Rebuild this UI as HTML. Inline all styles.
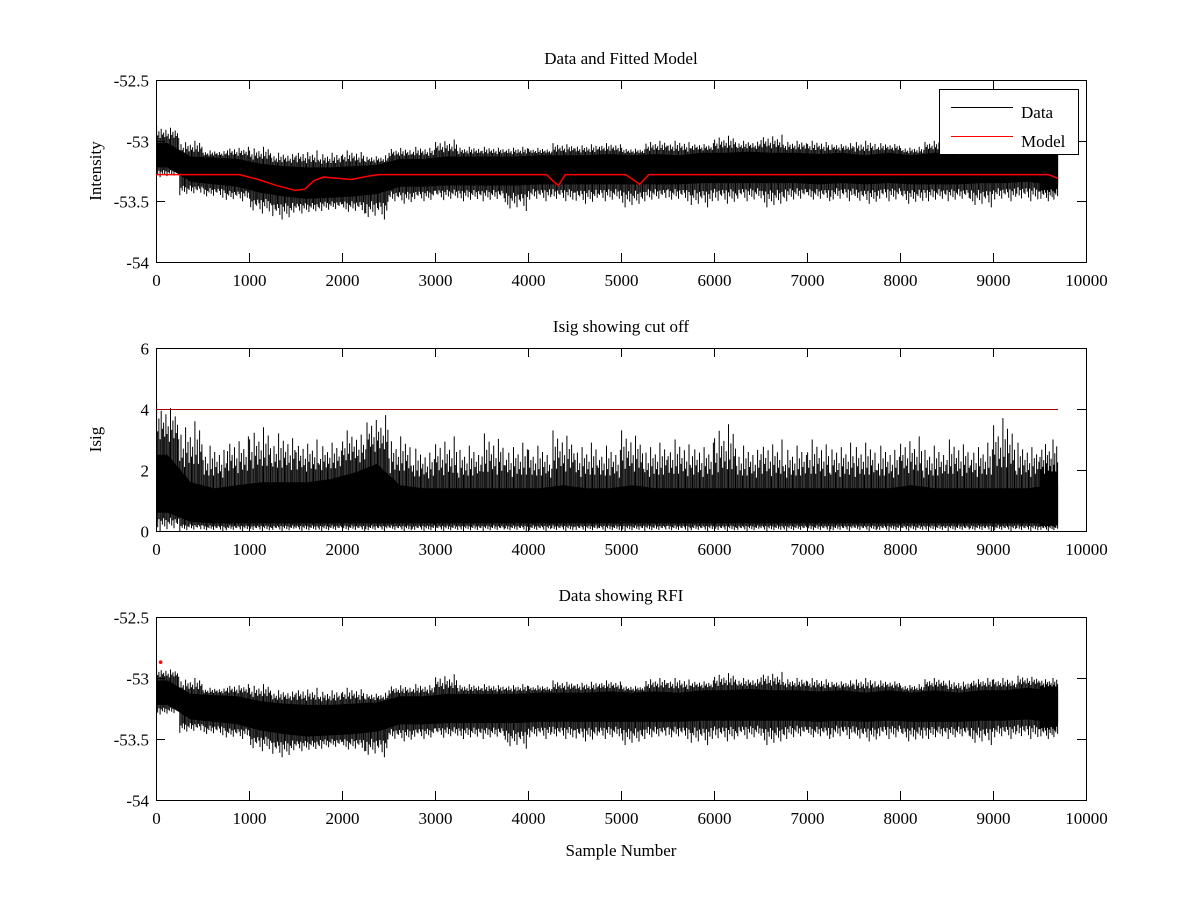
<!DOCTYPE html>
<html><head><meta charset="utf-8">
<style>
body{margin:0;background:#fff;}
svg{display:block;font-family:"Liberation Serif",serif;}
</style></head>
<body>
<svg id="fig" width="1200" height="900" viewBox="0 0 1200 900">
<rect width="1200" height="900" fill="#fff"/>
</svg>
<script>
// Binned envelope data (bins of 250 samples)
const binStarts = [0,250,500,750,1000,1250,1500,1750,2000,2250,2500,2750,3000,3250,3500,3750,4000,4250,4500,4750,5000,5250,5500,5750,6000,6250,6500,6750,7000,7250,7500,7750,8000,8250,8500,8750,9000,9250,9500];
const binEnd = 9700;
const p1CoreHi = [-53.02,-53.13,-53.14,-53.15,-53.19,-53.21,-53.22,-53.22,-53.21,-53.2,-53.15,-53.15,-53.13,-53.13,-53.13,-53.13,-53.12,-53.12,-53.12,-53.11,-53.12,-53.11,-53.12,-53.1,-53.1,-53.09,-53.1,-53.1,-53.11,-53.1,-53.12,-53.1,-53.12,-53.1,-53.12,-53.1,-53.1,-53.08,-53.1];
const p1CoreLo = [-53.22,-53.34,-53.36,-53.38,-53.43,-53.46,-53.48,-53.47,-53.46,-53.44,-53.38,-53.38,-53.37,-53.37,-53.37,-53.37,-53.36,-53.36,-53.36,-53.36,-53.36,-53.36,-53.36,-53.35,-53.35,-53.35,-53.35,-53.35,-53.36,-53.35,-53.36,-53.35,-53.36,-53.36,-53.36,-53.35,-53.35,-53.34,-53.36];
const p1Max = [-52.88,-53.0,-53.08,-53.05,-53.05,-53.1,-53.08,-53.1,-53.08,-53.12,-53.06,-53.05,-52.99,-53.05,-53.05,-53.05,-53.06,-53.02,-53.03,-53.02,-53.06,-53.0,-53.0,-53.02,-52.96,-53.0,-52.95,-53.0,-53.0,-53.02,-53.0,-53.02,-53.05,-53.0,-53.02,-53.0,-53.0,-52.98,-53.0];
const p1Min = [-53.3,-53.45,-53.47,-53.5,-53.6,-53.65,-53.6,-53.58,-53.6,-53.65,-53.52,-53.5,-53.49,-53.5,-53.5,-53.58,-53.5,-53.5,-53.52,-53.5,-53.55,-53.5,-53.5,-53.55,-53.52,-53.5,-53.55,-53.5,-53.5,-53.5,-53.52,-53.5,-53.52,-53.5,-53.5,-53.55,-53.5,-53.5,-53.5];
const modelX = [0,900,1100,1300,1500,1600,1700,1800,1950,2100,2300,2400,4200,4280,4330,4400,5050,5150,5200,5300,9500,9600,9700];
const modelY = [-53.28,-53.28,-53.32,-53.37,-53.41,-53.4,-53.33,-53.3,-53.31,-53.32,-53.29,-53.28,-53.28,-53.34,-53.37,-53.28,-53.28,-53.33,-53.36,-53.28,-53.28,-53.28,-53.31];
const p2CoreHi = [2.5,1.6,1.4,1.5,1.6,1.6,1.6,1.7,1.9,2.2,1.5,1.4,1.4,1.4,1.4,1.4,1.4,1.5,1.4,1.4,1.5,1.4,1.4,1.4,1.4,1.4,1.4,1.4,1.4,1.4,1.4,1.4,1.5,1.4,1.4,1.4,1.4,1.4,1.5];
const p2CoreLo = [0.6,0.3,0.25,0.25,0.25,0.25,0.25,0.25,0.25,0.25,0.25,0.25,0.25,0.25,0.25,0.25,0.25,0.25,0.25,0.25,0.25,0.25,0.25,0.25,0.25,0.25,0.25,0.25,0.25,0.25,0.25,0.25,0.25,0.25,0.25,0.25,0.25,0.25,0.25];
const p2Max = [4.2,3.6,2.8,3.1,3.4,3.2,3.0,2.9,3.3,3.8,3.1,2.7,3.1,2.8,3.2,2.9,2.8,3.3,2.9,2.8,3.3,2.9,3.0,2.9,3.5,2.8,3.0,2.8,3.0,2.9,2.9,2.8,3.1,2.8,3.0,2.9,3.7,2.9,3.0];
const p2Min = [0,0,0,0,0,0,0,0,0,0,0,0,0,0,0,0,0,0,0,0,0,0,0,0,0,0,0,0,0,0,0,0,0,0,0,0,0,0,0];
const cutoffValue = 4;
const p3CoreHi = p1CoreHi.slice();
const p3CoreLo = p1CoreLo.slice();
const p3Max = [-52.92,-53.0,-53.08,-53.05,-53.05,-53.1,-53.08,-53.1,-53.08,-53.12,-53.06,-53.05,-52.97,-53.05,-53.05,-53.05,-53.06,-53.02,-53.03,-53.02,-53.06,-53.0,-53.0,-53.02,-52.96,-53.0,-52.95,-53.0,-53.0,-53.02,-53.0,-53.02,-53.05,-53.0,-53.02,-53.0,-53.0,-52.98,-53.0];
const p3Min = p1Min.slice();
const rfiX = [50];
const rfiY = [-52.87];
const xTicks = [0,1000,2000,3000,4000,5000,6000,7000,8000,9000,10000];
const yTicksInt = [-52.5,-53,-53.5,-54];
const yTicksIsig = [0,2,4,6];

const NS='http://www.w3.org/2000/svg';
const svg=document.getElementById('fig');
function mk(tag,attrs,parent){const e=document.createElementNS(NS,tag);for(const k in attrs)e.setAttribute(k,attrs[k]);(parent||svg).appendChild(e);return e;}
const X0=156,X1=1086;
function xs(v){return X0+(v-0)/(10000-0)*(X1-X0);}
// texture pattern (style only): relative spike heights within a bin
const upPat=[1,0.45,0.7,0.3,0.85,0.5,0.62,0.35,0.78,0.4,0.55,0.25,0.9,0.48,0.66,0.32,0.74,0.42,0.58,0.3];
const dnPat=[0.5,0.8,0.35,1,0.45,0.65,0.3,0.75,0.4,0.9,0.5,0.6,0.28,0.7,0.42,0.85,0.36,0.55,0.62,0.33];

function panel(name,top,bot,ymin,ymax,yticks,title,ylabel,coreHi,coreLo,mx,mn){
  const g=mk('g',{});
  
  
  const ys=v=>bot-(v-ymin)/(ymax-ymin)*(bot-top);
  const dg=mk('g',{},g);
  
  
  // core band polygon
  const n=binStarts.length;
  const cx=i=>{const a=binStarts[i],b=(i+1<n)?binStarts[i+1]:binEnd;return xs((a+b)/2);};
  let pts=[xs(0)+','+ys(coreHi[0])];
  for(let i=0;i<n;i++)pts.push(cx(i)+','+ys(coreHi[i]));
  pts.push(xs(binEnd)+','+ys(coreHi[n-1]));
  pts.push(xs(binEnd)+','+ys(coreLo[n-1]));
  for(let i=n-1;i>=0;i--)pts.push(cx(i)+','+ys(coreLo[i]));
  pts.push(xs(0)+','+ys(coreLo[0]));
  const band=mk('polygon',{points:pts.join(' '),fill:'#000'},dg);
  
  
  let d='';
  for(let i=0;i<n;i++){
    const a=binStarts[i], b=(i+1<n)?binStarts[i+1]:binEnd;
    const xa=xs(a), xb=xs(b);
    const k=upPat.length;
    for(let j=0;j<k;j++){
      const x=(xa+(xb-xa)*(j+0.5)/k).toFixed(1);
      const pu=upPat[(j+i*7)%k], pd=dnPat[(j+i*3)%k];
      const yt=ys(coreHi[i]+(mx[i]-coreHi[i])*pu);
      const yb=ys(coreLo[i]-(coreLo[i]-mn[i])*pd);
      d+=`M${x} ${yt.toFixed(1)}V${yb.toFixed(1)}`;
    }
  }
  const sp=mk('path',{d:d,stroke:'#000','stroke-width':1,fill:'none'},dg);
  
  
  const box=mk('rect',{x:X0+0.5,y:top+0.5,width:X1-X0,height:bot-top,fill:'none',stroke:'#000','stroke-width':1},g);
  
  
  xTicks.forEach(t=>{
    const x=Math.round(xs(t))+0.5;
    mk('line',{x1:x,x2:x,y1:bot,y2:bot-9,stroke:'#000'},g);
    mk('line',{x1:x,x2:x,y1:top,y2:top+9,stroke:'#000'},g);
    const tx=mk('text',{x:x,y:bot+24,'text-anchor':'middle','font-size':17},g);
    tx.textContent=t;
    
    
  });
  yticks.forEach(t=>{
    const y=Math.round(ys(t))+0.5;
    mk('line',{x1:X0,x2:X0+9,y1:y,y2:y,stroke:'#000'},g);
    mk('line',{x1:X1,x2:X1-9,y1:y,y2:y,stroke:'#000'},g);
    const tx=mk('text',{x:X0-7,y:y+6,'text-anchor':'end','font-size':17},g);
    tx.textContent=t;
    
    
  });
  const tt=mk('text',{x:(X0+X1)/2,y:top-16,'text-anchor':'middle','font-size':17},g);
  tt.textContent=title;
  
  
  if(ylabel){
    const yl=mk('text',{x:0,y:0,'text-anchor':'middle','font-size':17,transform:`translate(101,${(top+bot)/2}) rotate(-90)`},g);
    yl.textContent=ylabel;
    
    
  }
  return {g,ys};
}

const a1=panel('data-fitted-panel',80,262,-54,-52.5,yTicksInt,'Data and Fitted Model','Intensity',p1CoreHi,p1CoreLo,p1Max,p1Min);
const mp=mk('polyline',{points:modelX.map((x,i)=>xs(x)+','+a1.ys(modelY[i])).join(' '),fill:'none',stroke:'#f00','stroke-width':1.5},a1.g);


const lg=mk('g',{},a1.g);


mk('rect',{x:939.5,y:89.5,width:139,height:65,fill:'#fff',stroke:'#000'},lg);
mk('line',{x1:951,x2:1013,y1:107.5,y2:107.5,stroke:'#000'},lg);
mk('line',{x1:951,x2:1013,y1:136.5,y2:136.5,stroke:'#f00'},lg);
const t1=mk('text',{x:1021,y:118,'font-size':17},lg);t1.textContent='Data';


const t2=mk('text',{x:1021,y:147,'font-size':17},lg);t2.textContent='Model';



const a2=panel('isig-panel',348,531,0,6,yTicksIsig,'Isig showing cut off','Isig',p2CoreHi,p2CoreLo,p2Max,p2Min);
const cl=mk('line',{x1:xs(0),x2:xs(binEnd),y1:Math.round(a2.ys(cutoffValue))+0.5,y2:Math.round(a2.ys(cutoffValue))+0.5,stroke:'#a00','stroke-width':1},a2.g);



const a3=panel('rfi-panel',617,800,-54,-52.5,yTicksInt,'Data showing RFI','',p3CoreHi,p3CoreLo,p3Max,p3Min);
rfiX.forEach((x,i)=>{
  const c=mk('circle',{cx:xs(x),cy:a3.ys(rfiY[i]),r:1.8,fill:'#f00'},a3.g);
  
  
});
const xl=mk('text',{x:(X0+X1)/2,y:856,'text-anchor':'middle','font-size':17});
xl.textContent='Sample Number';


</script>
</body></html>
